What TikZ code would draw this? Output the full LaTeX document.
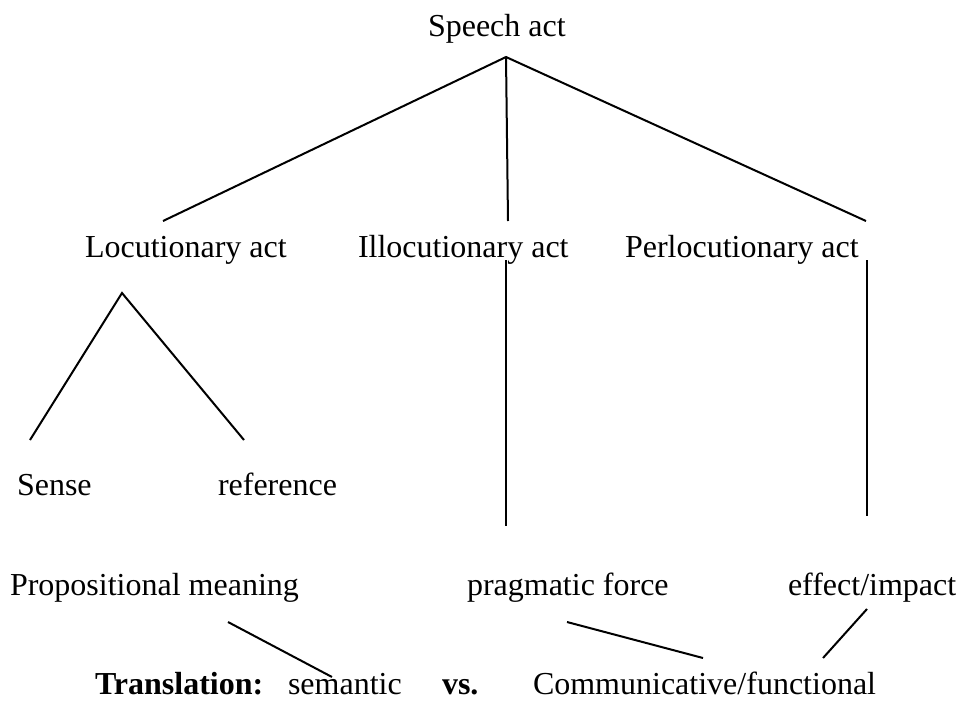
\documentclass[tikz,border=0pt]{standalone}
\usepackage{fontspec}
\setmainfont{Liberation Serif}
\begin{document}
\begin{tikzpicture}[x=0.75pt,y=-0.75pt,
  lbl/.style={anchor=base west,inner sep=0pt,outer sep=0pt,font=\fontsize{24}{28}\selectfont},
  conn/.style={line width=1.5pt,line cap=butt}]
\useasboundingbox (0,0) rectangle (959,700);
% texts
\node[lbl] (speech) at (428,36) {Speech act};
\node[lbl] (loc) at (85,257) {Locutionary act};
\node[lbl] (illoc) at (358,257) {Illocutionary act};
\node[lbl] (perloc) at (625,257) {Perlocutionary act};
\node[lbl] (sense) at (17,495) {Sense};
\node[lbl] (ref) at (218,495) {reference};
\node[lbl] (prop) at (10,595) {Propositional meaning};
\node[lbl] (prag) at (467,595) {pragmatic force};
\node[lbl] (eff) at (788,595) {effect/impact};
\node[lbl] (trans) at (95,694) {\textbf{Translation:}};
\node[lbl] (sem) at (288,694) {semantic};
\node[lbl] (vs) at (442,694) {\textbf{vs.}};
\node[lbl] (comm) at (533,694) {Communicative/functional};
% connector ends
\coordinate (apex) at (506,57);
\coordinate (locTop) at (163,221);
\coordinate (illTop) at (508,221);
\coordinate (perTop) at (866,221);
\coordinate (locApex) at (122,293);
\coordinate (senseTop) at (30,440);
\coordinate (refTop) at (244,440);
\coordinate (illA) at (506,260);
\coordinate (illB) at (506,526);
\coordinate (perA) at (867,260);
\coordinate (perB) at (867,516);
\coordinate (propA) at (228,622);
\coordinate (semA) at (332,677);
\coordinate (pragA) at (567,622);
\coordinate (commA) at (703,658);
\coordinate (effA) at (867,609);
\coordinate (commB) at (823,658);
% connectors
\draw[conn] (locTop) -- (apex) -- (perTop);
\draw[conn] (apex) -- (illTop);
\draw[conn] (senseTop) -- (locApex) -- (refTop);
\draw[conn] (illA) -- (illB);
\draw[conn] (perA) -- (perB);
\draw[conn] (propA) -- (semA);
\draw[conn] (pragA) -- (commA);
\draw[conn] (effA) -- (commB);
\end{tikzpicture}
\end{document}
